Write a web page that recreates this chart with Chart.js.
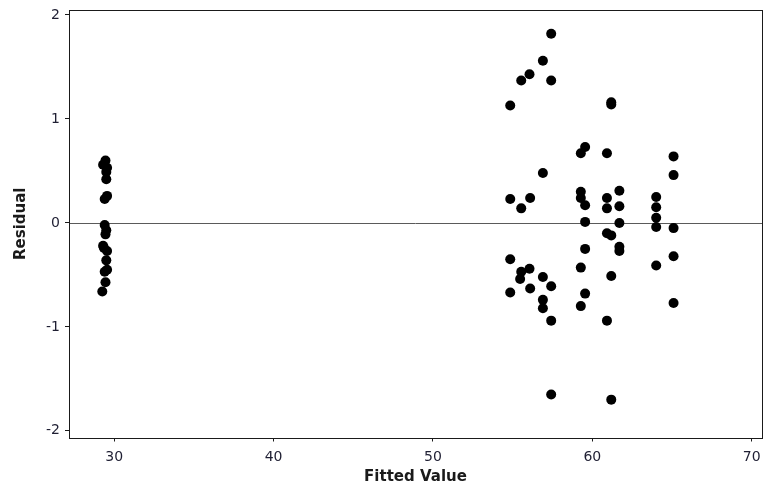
<!DOCTYPE html>
<html>
<head>
<meta charset="utf-8">
<title>Residuals versus Fitted Values</title>
<script src="https://cdn.jsdelivr.net/npm/chart.js@4"></script>
<style>
    html, body {
        margin: 0;
        padding: 0;
        background: #ffffff;
    }

    #residualChart {
        display: block;
    }
</style>
</head>
<body>

<canvas id="residualChart" width="769" height="495"></canvas>

<script>

// Fitted value / residual pairs, one entry per observation
const fittedValues = [
    29.45, 29.30, 29.55, 29.50, 29.50, 29.55, 29.40, 29.40, 29.50,
    29.45, 29.30, 29.35, 29.55, 29.50, 29.55, 29.40, 29.45, 29.25,

    54.85, 54.85, 54.85, 54.85,
    55.54, 55.54, 55.54, 55.47,
    56.06, 56.10, 56.06, 56.10,
    56.90, 56.90, 56.90, 56.90, 56.90,
    57.42, 57.42, 57.42, 57.42, 57.42,

    59.55, 59.28, 59.28, 59.28, 59.55, 59.55, 59.55, 59.28, 59.55, 59.28,
    61.19, 61.19, 60.92, 60.92, 60.92, 60.92, 61.19, 61.19, 60.92, 61.19,
    61.70, 61.70, 61.70, 61.70, 61.70,
    64.01, 64.01, 64.01, 64.01, 64.01,
    65.10, 65.10, 65.10, 65.10, 65.10
];

const residuals = [
    0.60, 0.56, 0.53, 0.49, 0.42, 0.26, 0.23, -0.02, -0.07,
    -0.11, -0.22, -0.24, -0.27, -0.36, -0.45, -0.47, -0.57, -0.66,

    1.13, 0.23, -0.35, -0.67,
    1.37, 0.14, -0.47, -0.54,
    1.43, 0.24, -0.44, -0.63,
    1.56, 0.48, -0.52, -0.74, -0.82,
    1.82, 1.37, -0.61, -0.94, -1.65,

    0.73, 0.67, 0.30, 0.24, 0.17, 0.01, -0.25, -0.43, -0.68, -0.80,
    1.16, 1.14, 0.67, 0.24, 0.14, -0.10, -0.12, -0.51, -0.94, -1.70,
    0.31, 0.16, 0.00, -0.23, -0.27,
    0.25, 0.15, 0.05, -0.04, -0.41,
    0.64, 0.46, -0.05, -0.32, -0.77
];

const xTickValues = [30, 40, 50, 60, 70];
const yTickValues = [-2, -1, 0, 1, 2];

const xRange = [27.16, 70.65];
const yRange = [-2.064, 2.048];

const textColor = "#1f1f33";
const labelFont = "'DejaVu Sans', Verdana, sans-serif";


// box round the plot area plus the residual = 0 reference line
const plotFramePlugin = {

    id: "plotFrame",

    beforeDatasetsDraw(chart) {

        const { ctx, chartArea, scales } = chart;
        const zeroY =
            Math.round(scales.y.getPixelForValue(0)) + 0.5;

        ctx.save();
        ctx.strokeStyle = "#5a5a5a";
        ctx.lineWidth = 1;
        ctx.beginPath();
        ctx.moveTo(chartArea.left, zeroY);
        ctx.lineTo(chartArea.right, zeroY);
        ctx.stroke();
        ctx.restore();

    },

    afterDraw(chart) {

        const { ctx, chartArea } = chart;

        const left = Math.round(chartArea.left) + 0.5;
        const top = Math.round(chartArea.top) + 0.5;
        const right = Math.round(chartArea.right) + 0.5;
        const bottom = Math.round(chartArea.bottom) + 0.5;

        ctx.save();
        ctx.strokeStyle = "#1a1a1a";
        ctx.lineWidth = 1;
        ctx.strokeRect(left, top, right - left, bottom - top);
        ctx.restore();

    }

};


function buildPoints() {

    return fittedValues.map(
        (fit, i) => ({
            x: fit,
            y: residuals[i]
        })
    );

}


function axisOptions(range, tickValues, title, titlePadding, labelGap) {

    return {

        type: "linear",
        min: range[0],
        max: range[1],

        afterBuildTicks: scale => {
            scale.ticks = tickValues.map(
                v => ({ value: v })
            );
        },

        grid: {
            drawOnChartArea: false,
            drawTicks: true,
            tickLength: 4,
            color: "#1a1a1a",
            lineWidth: 1
        },

        border: {
            display: false
        },

        ticks: {
            color: textColor,
            padding: labelGap,
            font: {
                family: labelFont,
                size: 14
            }
        },

        title: {
            display: true,
            text: title,
            color: "#1a1a1a",
            padding: titlePadding,
            font: {
                family: labelFont,
                size: 15,
                weight: "bold"
            }
        }

    };

}


function renderResidualChart() {

    const ctx =
        document.getElementById(
            "residualChart"
        );

    const xAxis = axisOptions(
        xRange,
        xTickValues,
        "Fitted Value",
        { top: 0, bottom: 9 },
        7
    );

    // fixed axis band sizes, no extra room reserved for edge labels
    xAxis.afterFit = scale => {
        scale.height = 57.5;
        scale.paddingLeft = 0;
        scale.paddingRight = 0;
    };

    const yAxis = axisOptions(
        yRange,
        yTickValues,
        "Residual",
        { top: 12, bottom: 0 },
        5
    );

    yAxis.afterFit = scale => {
        scale.width = 69;
        scale.paddingTop = 0;
        scale.paddingBottom = 0;
    };

    new Chart(ctx, {

        type: "scatter",

        data: {
            datasets: [
                {
                    label: "Residual",
                    data: buildPoints(),
                    backgroundColor: "#000000",
                    borderColor: "#000000",
                    borderWidth: 0,
                    pointRadius: 5,
                    pointHoverRadius: 5
                }
            ]
        },

        options: {
            responsive: false,
            animation: false,
            devicePixelRatio: 1,

            layout: {
                padding: {
                    top: 10,
                    right: 7,
                    left: 0,
                    bottom: 0
                }
            },

            plugins: {
                legend: { display: false },
                tooltip: { enabled: false }
            },

            scales: {
                x: xAxis,
                y: yAxis
            }
        },

        plugins: [plotFramePlugin]

    });

}

document.addEventListener(
    "DOMContentLoaded",
    renderResidualChart
);

</script>
</body>
</html>
